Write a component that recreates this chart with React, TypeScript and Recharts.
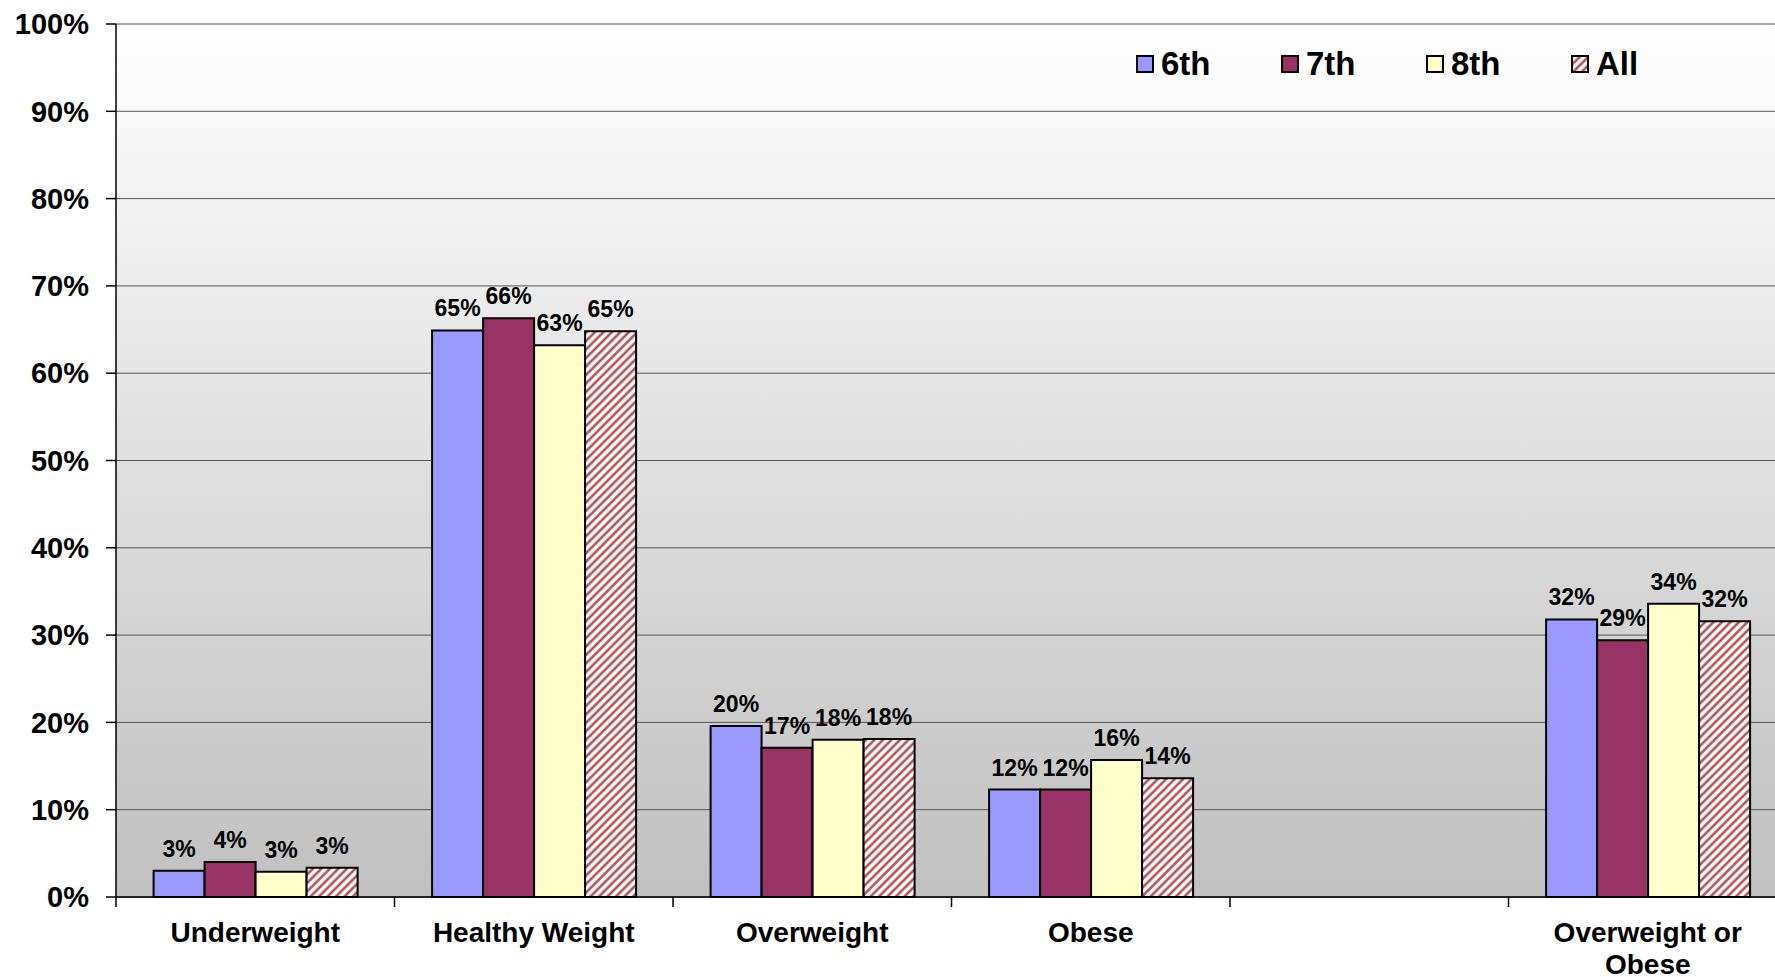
import React from 'react';
import {
  BarChart,
  Bar,
  XAxis,
  YAxis,
  CartesianGrid,
  Legend,
  LabelList,
} from 'recharts';

const categories = ['Underweight', 'Healthy Weight', 'Overweight', 'Obese', '', 'Overweight or\nObese'];
const sixth = [3.0, 64.9, 19.6, 12.3, null, 31.8];
const seventh = [4.0, 66.3, 17.1, 12.3, null, 29.4];
const eighth = [2.9, 63.2, 18.0, 15.7, null, 33.6];
const all = [3.35, 64.8, 18.1, 13.6, null, 31.6];
const yTicks = [0, 10, 20, 30, 40, 50, 60, 70, 80, 90, 100];

const seriesNames = ['6th', '7th', '8th', 'All'];
const seriesKeys = ['sixth', 'seventh', 'eighth', 'all'];
const seriesFills = ['#9999ff', '#993366', '#ffffcc', 'url(#hatch)'];

const data = categories.map((name, i) => ({
  name,
  sixth: sixth[i],
  seventh: seventh[i],
  eighth: eighth[i],
  all: all[i],
}));

const font = 'Arial, "Liberation Sans", sans-serif';
const catMargin = 25;

const pct = (v: any) => (v === null || v === undefined ? '' : `${Math.round(Number(v))}%`);

// category label + tick marks on the category boundaries
const CategoryTick = (props: any) => {
  const { x, y, payload, width, visibleTicksCount, index } = props;
  const band = width && visibleTicksCount ? width / visibleTicksCount : 0;
  const axisY = y - catMargin;
  const lines = String(payload.value).split('\n');
  return (
    <g>
      {band > 0 && (
        <line x1={x - band / 2} x2={x - band / 2} y1={axisY} y2={axisY + 10} stroke="#000" strokeWidth={1.5} />
      )}
      {band > 0 && index === visibleTicksCount - 1 && (
        <line x1={x + band / 2} x2={x + band / 2} y1={axisY} y2={axisY + 10} stroke="#000" strokeWidth={1.5} />
      )}
      <text
        x={x}
        y={y + 20}
        textAnchor="middle"
        fontSize={28}
        fontWeight="bold"
        fontFamily={font}
        fill="#000"
      >
        {lines.map((l, i) => (
          <tspan key={i} x={x} dy={i === 0 ? 0 : 32}>
            {l}
          </tspan>
        ))}
      </text>
    </g>
  );
};

const renderLegend = () => (
  <div style={{ display: 'flex', fontFamily: font, fontWeight: 'bold', fontSize: 33, color: '#000' }}>
    {seriesNames.map((n, i) => (
      <div key={n} style={{ width: 145, display: 'flex', alignItems: 'center' }}>
        <svg width={18} height={18}>
          <rect x={1} y={1} width={16} height={16} fill={seriesFills[i]} stroke="#000" strokeWidth={2} />
        </svg>
        <span style={{ marginLeft: 7 }}>{n}</span>
      </div>
    ))}
  </div>
);

export default function App() {
  return (
    <div
      style={{
        position: 'absolute',
        left: 0,
        top: 0,
        width: 1775,
        height: 977,
        overflow: 'hidden',
        background: '#fff',
      }}
    >
      <BarChart
        width={1787}
        height={977}
        data={data}
        margin={{ top: 24, right: 0, bottom: 0, left: 0 }}
        barCategoryGap="13.5%"
        barGap={0}
      >
        <defs>
          <linearGradient id="bg" x1="0" y1="0" x2="0" y2="1">
            <stop offset="0%" stopColor="#ffffff" />
            <stop offset="100%" stopColor="#c0c0c0" />
          </linearGradient>
          <pattern id="hatch" width={6} height={6} patternUnits="userSpaceOnUse" patternTransform="rotate(45)">
            <rect width={6} height={6} fill="#ffffff" />
            <line x1={1.5} y1={0} x2={1.5} y2={6} stroke="#b0454a" strokeWidth={2.4} />
          </pattern>
        </defs>
        <CartesianGrid vertical={false} stroke="#555" fill="url(#bg)" />
        <XAxis
          dataKey="name"
          height={80}
          axisLine={{ stroke: '#000', strokeWidth: 1.5 }}
          tickLine={false}
          tickSize={0}
          tickMargin={catMargin}
          interval={0}
          tick={<CategoryTick />}
        />
        <YAxis
          width={116}
          domain={[0, 100]}
          ticks={yTicks}
          tickFormatter={(v) => `${v}%`}
          axisLine={{ stroke: '#000', strokeWidth: 1.5 }}
          tickLine={{ stroke: '#000', strokeWidth: 1.5 }}
          tickSize={10}
          tickMargin={17}
          tick={{ fontSize: 29, fontWeight: 'bold', fill: '#000', fontFamily: font }}
        />
        <Legend
          layout="vertical"
          align="center"
          verticalAlign="middle"
          wrapperStyle={{ top: 45, left: 1136, width: 600 }}
          content={renderLegend}
        />
        {seriesKeys.map((k, i) => (
          <Bar
            key={k}
            dataKey={k}
            name={seriesNames[i]}
            fill={seriesFills[i]}
            stroke="#000"
            strokeWidth={2}
            isAnimationActive={false}
          >
            <LabelList
              dataKey={k}
              position="top"
              offset={14}
              formatter={pct}
              style={{ fontSize: 23, fontWeight: 'bold', fill: '#000', fontFamily: font }}
            />
          </Bar>
        ))}
      </BarChart>
    </div>
  );
}
